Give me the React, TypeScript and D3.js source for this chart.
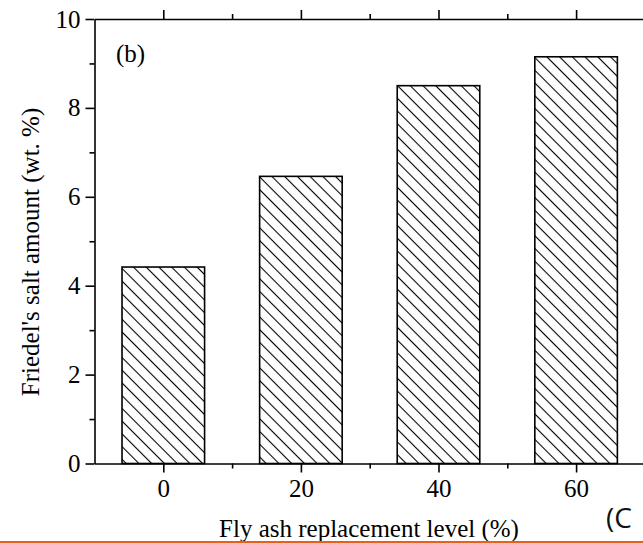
import React, { useEffect, useRef } from "react";
import * as d3 from "d3";

const categories = [0, 20, 40, 60];
const values = [4.42, 6.46, 8.5, 9.15];
const yMajorTicks = [0, 2, 4, 6, 8, 10];
const yMinorTicks = [1, 3, 5, 7, 9];
const xMajorTicks = [0, 20, 40, 60];
const xMinorTicks = [10, 30, 50];
const panelLabel = "(b)";
const xTitle = "Fly ash replacement level (%)";
const yTitle = "Friedel's salt amount (wt. %)";
const cornerText = "(C";

const W = 643;
const H = 543;
const FONT = "'Liberation Serif', 'Times New Roman', serif";
const FS = 25;

export default function App() {
  const ref = useRef<SVGSVGElement | null>(null);

  useEffect(() => {
    const svg = d3.select(ref.current);
    svg.selectAll("*").remove();

    const left = 94.5;
    const top = 19;
    const bottom = 463.5;
    const x = d3.scaleLinear().domain([-10, 70]).range([left, left + 80 * 6.88]);
    const y = d3.scaleLinear().domain([0, 10]).range([bottom, top]);

    const defs = svg.append("defs");
    const pat = defs
      .append("pattern")
      .attr("id", "hatch")
      .attr("patternUnits", "userSpaceOnUse")
      .attr("width", 9)
      .attr("height", 9)
      .attr("patternTransform", "rotate(45)");
    pat.append("rect").attr("width", 9).attr("height", 9).attr("fill", "#fff");
    pat
      .append("line")
      .attr("x1", -1)
      .attr("x2", 10)
      .attr("y1", 4.5)
      .attr("y2", 4.5)
      .attr("stroke", "#000")
      .attr("stroke-width", 1.1);

    // bars
    const bw = x(6) - x(0);
    svg
      .append("g")
      .selectAll("rect")
      .data(categories)
      .join("rect")
      .attr("x", (d) => x(d) - bw)
      .attr("width", bw * 2)
      .attr("y", (d, i) => y(values[i]))
      .attr("height", (d, i) => y(0) - y(values[i]))
      .attr("fill", "url(#hatch)")
      .attr("stroke", "#000")
      .attr("stroke-width", 1.6);

    const styleAxis = (g: any) => {
      g.attr("font-family", null).attr("font-size", null);
      g.selectAll("path").attr("stroke", "#000").attr("stroke-width", 1.6);
      g.selectAll("line").attr("stroke", "#000").attr("stroke-width", 1.6);
      g.selectAll("text")
        .attr("font-family", FONT)
        .attr("font-size", FS)
        .attr("fill", "#000");
    };

    // bottom axis
    const gb = svg.append("g").attr("transform", `translate(0,${bottom})`);
    gb.call(
      d3.axisBottom(x).tickValues(xMajorTicks).tickSize(9).tickSizeOuter(0).tickPadding(7).tickFormat(d3.format("d"))
    );
    gb.append("g").call(
      d3.axisBottom(x).tickValues(xMinorTicks).tickSize(5).tickSizeOuter(0).tickFormat(() => "")
    ).select(".domain").remove();
    styleAxis(gb);

    // top axis
    const gt = svg.append("g").attr("transform", `translate(0,${top})`);
    gt.call(d3.axisTop(x).tickValues(xMajorTicks).tickSize(9).tickSizeOuter(0).tickFormat(() => ""));
    gt.append("g").call(
      d3.axisTop(x).tickValues(xMinorTicks).tickSize(5).tickSizeOuter(0).tickFormat(() => "")
    ).select(".domain").remove();
    styleAxis(gt);

    // left axis
    const gl = svg.append("g").attr("transform", `translate(${left},0)`);
    gl.call(
      d3.axisLeft(y).tickValues(yMajorTicks).tickSize(9).tickSizeOuter(0).tickPadding(5).tickFormat(d3.format("d"))
    );
    gl.append("g").call(
      d3.axisLeft(y).tickValues(yMinorTicks).tickSize(5).tickSizeOuter(0).tickFormat(() => "")
    ).select(".domain").remove();
    styleAxis(gl);

    // panel label
    svg
      .append("text")
      .attr("x", 116)
      .attr("y", 62)
      .attr("font-family", FONT)
      .attr("font-size", FS)
      .text(panelLabel);

    // x title
    svg
      .append("text")
      .attr("x", 369)
      .attr("y", 537)
      .attr("text-anchor", "middle")
      .attr("font-family", FONT)
      .attr("font-size", FS)
      .text(xTitle);

    // y title
    svg
      .append("text")
      .attr("transform", `translate(39,252) rotate(-90)`)
      .attr("text-anchor", "middle")
      .attr("font-family", FONT)
      .attr("font-size", FS)
      .text(yTitle);

    // corner text
    svg
      .append("text")
      .attr("x", 606)
      .attr("y", 528)
      .attr("font-family", "'Open Sans', 'Liberation Sans', sans-serif")
      .attr("font-size", 28)
      .attr("fill", "#111")
      .text(cornerText);

    // orange line
    svg
      .append("line")
      .attr("x1", 0)
      .attr("x2", W)
      .attr("y1", 542)
      .attr("y2", 542)
      .attr("stroke", "#E8601C")
      .attr("stroke-width", 2);
  }, []);

  return (
    <svg
      ref={ref}
      width={W}
      height={H}
      style={{ position: "absolute", left: 0, top: 0, background: "#fff" }}
    />
  );
}
